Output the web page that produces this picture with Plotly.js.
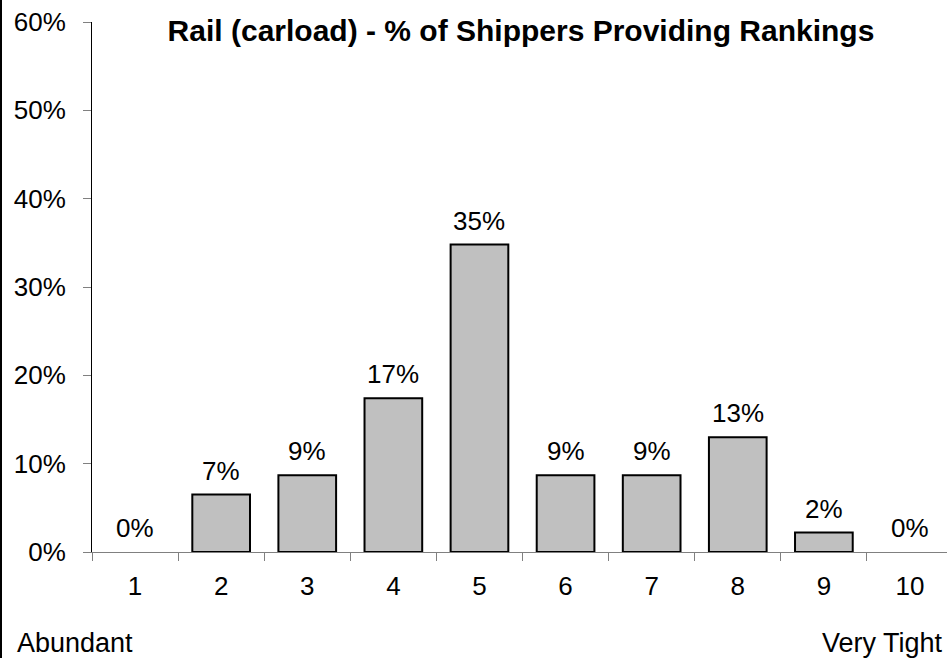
<!DOCTYPE html>
<html><head><meta charset="utf-8">
<script src="https://cdn.plot.ly/plotly-3.0.1.min.js"></script>
<style>html,body{margin:0;padding:0;background:#fff}</style>
</head><body><div id="chart" style="width:947px;height:658px"></div>
<script>
const categories = ["1","2","3","4","5","6","7","8","9","10"];
const shares = [0, 0.065, 0.087, 0.174, 0.348, 0.087, 0.087, 0.130, 0.022, 0];
const labels = ["0%","7%","9%","17%","35%","9%","9%","13%","2%","0%"];
const yTickVals = [0, 0.1, 0.2, 0.3, 0.4, 0.5, 0.6];
const yTickText = ["0%","10%","20%","30%","40%","50%","60%"];

const FONT = "Liberation Sans, Arial, sans-serif";
const FS = 26;
const trace = {
  type: "bar", x: categories, y: shares,
  marker: {color: "#c0c0c0", line: {color: "#000", width: shares.map(v => v > 0 ? 2 : 0)}},
  width: 0.67, hoverinfo: "skip"
};
const annotations = categories.map((c, i) => ({
  x: i, y: shares[i], text: labels[i], showarrow: false,
  xanchor: "center", yanchor: "bottom", yshift: 7,
  font: {family: FONT, size: FS, color: "#000"}
}));
annotations.push({xref: "paper", yref: "paper", x: -77/855, y: -0.1396, xanchor: "left", yanchor: "top",
  text: "Abundant", showarrow: false, font: {family: FONT, size: 27, color: "#000"}});
annotations.push({xref: "paper", yref: "paper", x: (945-92)/855, y: -0.1396, xanchor: "right", yanchor: "top",
  text: "Very Tight", showarrow: false, font: {family: FONT, size: 27, color: "#000"}});

const layout = {
  width: 947, height: 658,
  margin: {l: 92, r: 0, t: 22, b: 106},
  paper_bgcolor: "#fff", plot_bgcolor: "#fff",
  showlegend: false,
  font: {family: FONT, size: FS, color: "#000"},
  title: {text: "<b>Rail (carload) - % of Shippers Providing Rankings</b>",
    x: 521/947, xanchor: "center", y: 1 - 30/658, yanchor: "middle",
    font: {family: FONT, size: 30, color: "#000"}},
  xaxis: {type: "category", range: [-0.5, 9.43], tickson: "boundaries",
    ticks: "outside", ticklen: 8, tickcolor: "#808080", tickwidth: 1,
    showline: true, linecolor: "#808080", linewidth: 1, showgrid: false, zeroline: false,
    ticklabelstandoff: 11,
    tickfont: {family: FONT, size: FS, color: "#000"}, fixedrange: true},
  yaxis: {range: [0, 0.6], tickvals: yTickVals, ticktext: yTickText,
    ticks: "outside", ticklen: 8, tickcolor: "#808080", tickwidth: 1,
    showline: true, linecolor: "#000", linewidth: 1, showgrid: false, zeroline: false,
    ticklabelstandoff: 12,
    tickfont: {family: FONT, size: FS, color: "#000"}, fixedrange: true},
  bargap: 0.33,
  annotations: annotations,
  shapes: [{type: "line", xref: "paper", yref: "paper", x0: -91/855, x1: -91/855, y0: -106/530, y1: 1 + 22/530,
    line: {color: "#000", width: 2}}]
};
Plotly.newPlot("chart", [trace], layout, {displayModeBar: false, staticPlot: true});
</script></body></html>
